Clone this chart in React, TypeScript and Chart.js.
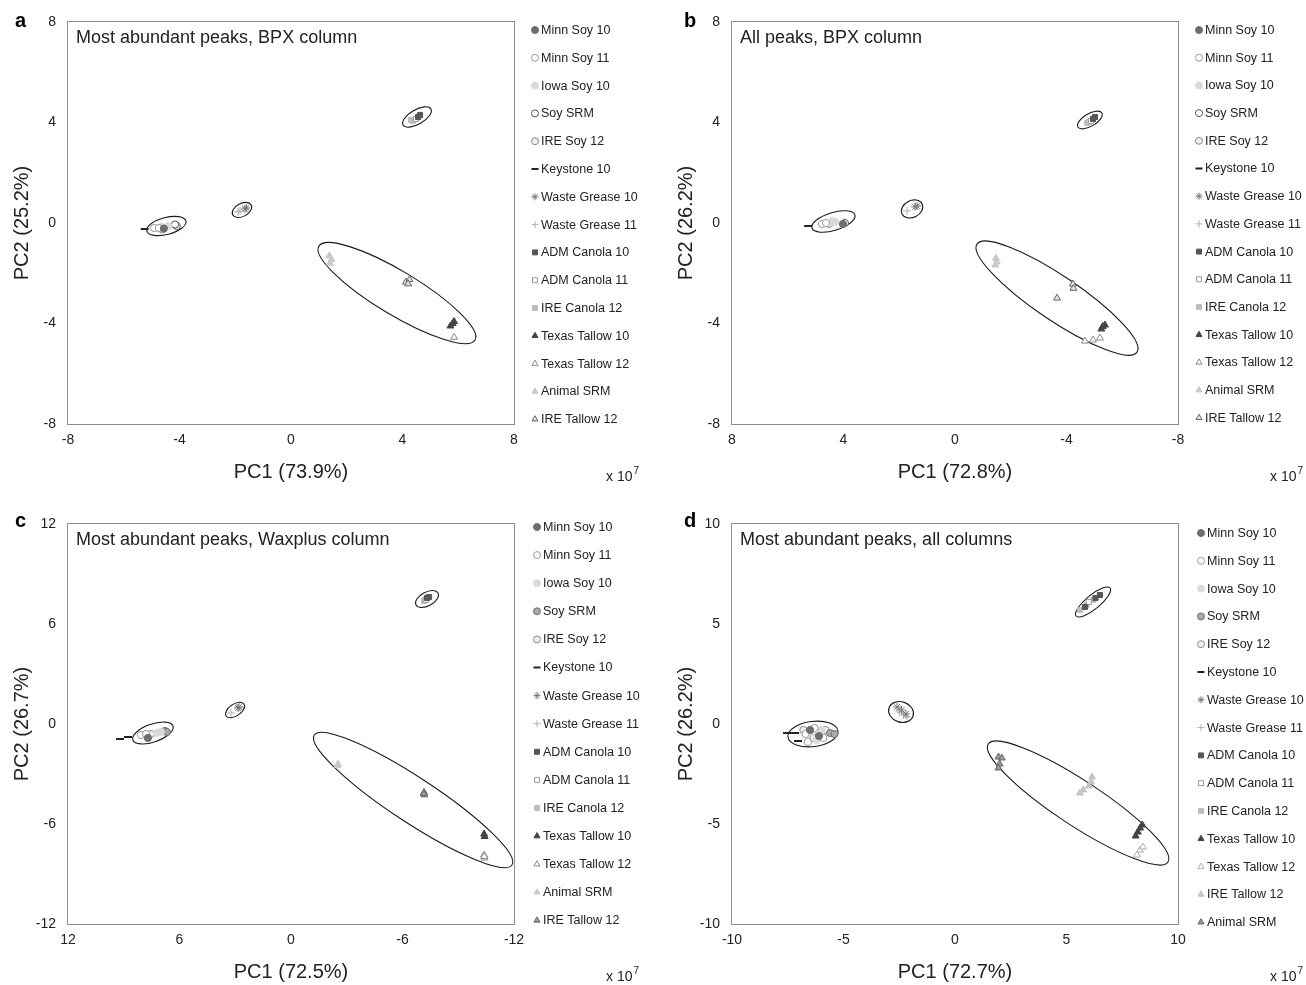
import React, { useEffect, useRef } from 'react';
import { Chart, registerables } from 'chart.js';
import { drawPoint } from 'chart.js/helpers';

Chart.register(...registerables);

const FONT = '"Liberation Sans", Arial, Helvetica, sans-serif';
const TEXT = '#222222';

type Pt = [number, number];
// ellipse: [centerX, centerY, majorEndX, majorEndY, minor/major ratio] in data units
type Ell = [number, number, number, number, number];

const SERIES_ORDER = [
  'Minn Soy 10', 'Minn Soy 11', 'Iowa Soy 10', 'Soy SRM', 'IRE Soy 12', 'Keystone 10',
  'Waste Grease 10', 'Waste Grease 11', 'ADM Canola 10', 'ADM Canola 11', 'IRE Canola 12',
  'Texas Tallow 10', 'Texas Tallow 12', 'Animal SRM', 'IRE Tallow 12',
];
const SERIES_ORDER_D = [
  'Minn Soy 10', 'Minn Soy 11', 'Iowa Soy 10', 'Soy SRM', 'IRE Soy 12', 'Keystone 10',
  'Waste Grease 10', 'Waste Grease 11', 'ADM Canola 10', 'ADM Canola 11', 'IRE Canola 12',
  'Texas Tallow 10', 'Texas Tallow 12', 'IRE Tallow 12', 'Animal SRM',
];

// ---------- Panel a: Most abundant peaks, BPX column ----------
const A_POINTS: Record<string, Pt[]> = {
  'Keystone 10': [[-5.25, -0.24]],
  'Minn Soy 11': [[-4.91, -0.2], [-4.74, -0.2]],
  'IRE Soy 12': [[-4.62, -0.26]],
  'Minn Soy 10': [[-4.56, -0.22]],
  'Iowa Soy 10': [[-4.66, -0.14], [-4.4, -0.12]],
  'Soy SRM': [[-4.1, -0.12], [-4.16, -0.06]],
  'Waste Grease 11': [[-1.9, 0.44], [-1.83, 0.48]],
  'Waste Grease 10': [[-1.65, 0.56], [-1.6, 0.6]],
  'IRE Canola 12': [[4.3, 4.1], [4.38, 4.06]],
  'ADM Canola 11': [[4.48, 4.14]],
  'ADM Canola 10': [[4.56, 4.22], [4.63, 4.3]],
  'Animal SRM': [[1.38, -1.3], [1.45, -1.45], [1.4, -1.6]],
  'IRE Tallow 12': [[4.12, -2.35], [4.25, -2.25], [4.2, -2.42]],
  'Texas Tallow 10': [[5.72, -4.1], [5.85, -3.92], [5.8, -4.0]],
  'Texas Tallow 12': [[5.85, -4.55]],
};
const A_ELLIPSES: Ell[] = [
  [-4.47, -0.12, -3.77, 0.08, 0.42],
  [-1.76, 0.52, -1.43, 0.72, 0.62],
  [4.52, 4.22, 5.02, 4.54, 0.45],
  [3.8, -2.79, 6.6, -4.66, 0.24],
];

// ---------- Panel b: All peaks, BPX column ----------
const B_POINTS: Record<string, Pt[]> = {
  'Keystone 10': [[5.27, -0.12]],
  'Minn Soy 11': [[4.77, -0.04], [4.63, 0.0]],
  'IRE Soy 12': [[4.52, -0.04]],
  'Iowa Soy 10': [[4.3, 0.04], [4.4, 0.08]],
  'Minn Soy 10': [[4.02, -0.04]],
  'Soy SRM': [[3.95, 0.0]],
  'Waste Grease 11': [[1.72, 0.48]],
  'Waste Grease 10': [[1.43, 0.64], [1.36, 0.68]],
  'IRE Canola 12': [[-4.74, 3.98], [-4.8, 4.02]],
  'ADM Canola 11': [[-4.88, 4.06]],
  'ADM Canola 10': [[-4.95, 4.14], [-5.02, 4.22]],
  'Animal SRM': [[-1.47, -1.4], [-1.5, -1.55], [-1.45, -1.67]],
  'IRE Tallow 12': [[-4.23, -2.43], [-4.25, -2.6], [-3.66, -2.99]],
  'Texas Tallow 10': [[-5.25, -4.22], [-5.38, -4.06], [-5.3, -4.12]],
  'Texas Tallow 12': [[-4.66, -4.7], [-4.95, -4.66], [-5.2, -4.58]],
};
const B_ELLIPSES: Ell[] = [
  [4.36, 0.06, 3.59, 0.32, 0.4],
  [1.54, 0.56, 1.18, 0.76, 0.75],
  [-4.84, 4.1, -5.27, 4.38, 0.45],
  [-3.66, -2.99, -6.53, -5.14, 0.23],
];

// ---------- Panel c: Most abundant peaks, Waxplus column ----------
const C_POINTS: Record<string, Pt[]> = {
  'Keystone 10': [[9.2, -0.9], [8.77, -0.78]],
  'Minn Soy 11': [[8.07, -0.66], [7.8, -0.6]],
  'Minn Soy 10': [[7.7, -0.84]],
  'IRE Soy 12': [[7.53, -0.6]],
  'Iowa Soy 10': [[7.21, -0.54], [7.0, -0.48]],
  'Soy SRM': [[6.78, -0.42], [6.68, -0.48]],
  'Waste Grease 11': [[3.23, 0.66]],
  'Waste Grease 10': [[2.85, 0.96], [2.8, 1.02]],
  'IRE Canola 12': [[-7.16, 7.38]],
  'ADM Canola 11': [[-7.25, 7.45]],
  'ADM Canola 10': [[-7.32, 7.56], [-7.43, 7.62]],
  'Animal SRM': [[-2.53, -2.4], [-2.5, -2.48]],
  'IRE Tallow 12': [[-7.16, -4.1], [-7.18, -4.25], [-7.14, -4.18]],
  'Texas Tallow 10': [[-10.39, -6.6], [-10.42, -6.75]],
  'Texas Tallow 12': [[-10.39, -7.86], [-10.42, -8.04], [-10.4, -7.95]],
};
const C_ELLIPSES: Ell[] = [
  [7.43, -0.54, 6.35, -0.12, 0.42],
  [3.01, 0.84, 2.53, 1.2, 0.55],
  [-7.32, 7.5, -7.91, 7.86, 0.55],
  [-6.57, -4.56, -11.89, -8.46, 0.19],
];

// ---------- Panel d: Most abundant peaks, all columns ----------
const D_POINTS: Record<string, Pt[]> = {
  'Keystone 10': [[-7.53, -0.45], [-7.17, -0.45], [-7.04, -0.85]],
  'Minn Soy 11': [[-6.7, -0.5], [-6.3, -0.2], [-5.9, -0.7], [-6.6, -0.9]],
  'Iowa Soy 10': [[-6.4, -0.4], [-6.0, -0.3], [-6.2, -0.8]],
  'IRE Soy 12': [[-6.8, -0.3], [-6.35, -0.7], [-5.8, -0.3]],
  'Minn Soy 10': [[-6.5, -0.3], [-6.1, -0.6]],
  'Soy SRM': [[-5.6, -0.45], [-5.4, -0.5]],
  'Waste Grease 11': [[-2.5, 0.6], [-2.3, 0.45], [-2.15, 0.35]],
  'Waste Grease 10': [[-2.6, 0.85], [-2.4, 0.7], [-2.2, 0.5]],
  'IRE Canola 12': [[5.6, 5.7], [5.9, 5.95], [6.2, 6.2]],
  'ADM Canola 11': [[6.0, 6.1]],
  'ADM Canola 10': [[5.83, 5.85], [6.3, 6.3], [6.5, 6.45]],
  'Animal SRM': [[1.95, -1.65], [2.1, -1.7], [2.0, -2.0], [1.95, -2.2]],
  'IRE Tallow 12': [[5.6, -3.45], [5.75, -3.3], [6.0, -3.1], [6.15, -2.65], [6.1, -2.9]],
  'Texas Tallow 10': [[8.1, -5.6], [8.2, -5.4], [8.3, -5.2], [8.4, -5.05]],
  'Texas Tallow 12': [[8.16, -6.55], [8.3, -6.3], [8.43, -6.15]],
};
const D_ELLIPSES: Ell[] = [
  [-6.37, -0.5, -5.25, -0.35, 0.5],
  [-2.42, 0.6, -1.88, 0.4, 0.8],
  [6.19, 6.1, 6.95, 6.8, 0.32],
  [5.52, -3.95, 9.55, -6.9, 0.21],
];

interface Sty { shape: string; fill: string; stroke: string; r: number; w: number }
const STYLE: Record<string, Sty> = {
  'Minn Soy 10': { shape: 'circle', fill: '#6e6e6e', stroke: '#6e6e6e', r: 3.6, w: 1 },
  'Minn Soy 11': { shape: 'circle', fill: '#ffffff', stroke: '#9a9a9a', r: 3.6, w: 1 },
  'Iowa Soy 10': { shape: 'circle', fill: '#dadada', stroke: '#dadada', r: 3.6, w: 1 },
  'Soy SRM': { shape: 'circle', fill: '#ffffff', stroke: '#555555', r: 3.6, w: 1 },
  'IRE Soy 12': { shape: 'circle', fill: '#eeeeee', stroke: '#8a8a8a', r: 3.6, w: 1 },
  'Keystone 10': { shape: 'line', fill: '#222222', stroke: '#222222', r: 4, w: 2 },
  'Waste Grease 10': { shape: 'star', fill: '#777777', stroke: '#777777', r: 4, w: 1 },
  'Waste Grease 11': { shape: 'cross', fill: '#b0b0b0', stroke: '#b0b0b0', r: 4, w: 1 },
  'ADM Canola 10': { shape: 'rect', fill: '#575757', stroke: '#575757', r: 3.6, w: 1 },
  'ADM Canola 11': { shape: 'rect', fill: '#ffffff', stroke: '#9a9a9a', r: 3.6, w: 1 },
  'IRE Canola 12': { shape: 'rect', fill: '#bdbdbd', stroke: '#bdbdbd', r: 3.6, w: 1 },
  'Texas Tallow 10': { shape: 'triangle', fill: '#444444', stroke: '#444444', r: 4, w: 1 },
  'Texas Tallow 12': { shape: 'triangle', fill: '#ffffff', stroke: '#8a8a8a', r: 4, w: 1 },
  'Animal SRM': { shape: 'triangle', fill: '#c8c8c8', stroke: '#c8c8c8', r: 4, w: 1 },
  'IRE Tallow 12': { shape: 'triangle', fill: '#e2e2e2', stroke: '#666666', r: 4, w: 1 },
};
const C_STYLE: Record<string, Partial<Sty>> = {
  'Soy SRM': { fill: '#a8a8a8', stroke: '#707070' },
  'IRE Tallow 12': { fill: '#9a9a9a', stroke: '#666666' },
};
const D_STYLE: Record<string, Partial<Sty>> = {
  'Soy SRM': { fill: '#a8a8a8', stroke: '#707070' },
  'Animal SRM': { fill: '#9a9a9a', stroke: '#666666' },
  'IRE Tallow 12': { fill: '#c4c4c4', stroke: '#c4c4c4' },
  'Texas Tallow 12': { fill: '#ffffff', stroke: '#b0b0b0' },
};

interface PanelCfg {
  letter: string; title: string; xTitle: string; yTitle: string;
  xMin: number; xMax: number; xStep: number; xReverse: boolean;
  yMin: number; yMax: number; yStep: number;
  points: Record<string, Pt[]>; ellipses: Ell[]; order: string[];
  styleOverride: Record<string, Partial<Sty>>;
  left: number; top: number; width: number; padTop: number;
  legendX: number; legendTop: number; legendStep: number;
  letterX: number; expX: number;
}

const PANELS: PanelCfg[] = [
  {
    letter: 'a', title: 'Most abundant peaks, BPX column', xTitle: 'PC1 (73.9%)', yTitle: 'PC2 (25.2%)',
    xMin: -8, xMax: 8, xStep: 4, xReverse: false, yMin: -8, yMax: 8, yStep: 4,
    points: A_POINTS, ellipses: A_ELLIPSES, order: SERIES_ORDER, styleOverride: {},
    left: 0, top: 0, width: 653, padTop: 22, legendX: 535, legendTop: 30, legendStep: 27.8,
    letterX: 15, expX: 606,
  },
  {
    letter: 'b', title: 'All peaks, BPX column', xTitle: 'PC1 (72.8%)', yTitle: 'PC2 (26.2%)',
    xMin: -8, xMax: 8, xStep: 4, xReverse: true, yMin: -8, yMax: 8, yStep: 4,
    points: B_POINTS, ellipses: B_ELLIPSES, order: SERIES_ORDER, styleOverride: {},
    left: 664, top: 0, width: 642, padTop: 22, legendX: 535, legendTop: 30, legendStep: 27.7,
    letterX: 20, expX: 606,
  },
  {
    letter: 'c', title: 'Most abundant peaks, Waxplus column', xTitle: 'PC1 (72.5%)', yTitle: 'PC2 (26.7%)',
    xMin: -12, xMax: 12, xStep: 6, xReverse: true, yMin: -12, yMax: 12, yStep: 6,
    points: C_POINTS, ellipses: C_ELLIPSES, order: SERIES_ORDER, styleOverride: C_STYLE,
    left: 0, top: 500, width: 653, padTop: 24, legendX: 537, legendTop: 27, legendStep: 28.1,
    letterX: 15, expX: 606,
  },
  {
    letter: 'd', title: 'Most abundant peaks, all columns', xTitle: 'PC1 (72.7%)', yTitle: 'PC2 (26.2%)',
    xMin: -10, xMax: 10, xStep: 5, xReverse: false, yMin: -10, yMax: 10, yStep: 5,
    points: D_POINTS, ellipses: D_ELLIPSES, order: SERIES_ORDER_D, styleOverride: D_STYLE,
    left: 664, top: 500, width: 642, padTop: 24, legendX: 537, legendTop: 33, legendStep: 27.8,
    letterX: 20, expX: 606,
  },
];

const HEIGHT = 490;
const AREA_RIGHT = 514;
const AREA_BOTTOM = 424;

function styleFor(p: PanelCfg, name: string): Sty {
  return { ...STYLE[name], ...(p.styleOverride[name] || {}) };
}

function Panel({ cfg }: { cfg: PanelCfg }) {
  const ref = useRef<HTMLCanvasElement | null>(null);
  useEffect(() => {
    if (!ref.current) return;
    const datasets = cfg.order
      .filter((n) => cfg.points[n])
      .map((name) => {
        const s = styleFor(cfg, name);
        return {
          label: name,
          data: cfg.points[name].map(([x, y]) => ({ x, y })),
          pointStyle: s.shape,
          backgroundColor: s.fill,
          borderColor: s.stroke,
          pointRadius: s.r,
          pointHoverRadius: s.r,
          borderWidth: s.w,
          pointBorderWidth: s.w,
        };
      });

    const overlay = {
      id: 'overlay' + cfg.letter,
      beforeDatasetsDraw(chart: any) {
        const { ctx } = chart;
        const xs = chart.scales.x;
        const ys = chart.scales.y;
        ctx.save();
        ctx.strokeStyle = '#1a1a1a';
        ctx.lineWidth = 1.1;
        for (const [cx, cy, ex, ey, ratio] of cfg.ellipses) {
          const pcx = xs.getPixelForValue(cx);
          const pcy = ys.getPixelForValue(cy);
          const pex = xs.getPixelForValue(ex);
          const pey = ys.getPixelForValue(ey);
          const a = Math.hypot(pex - pcx, pey - pcy);
          const ang = Math.atan2(pey - pcy, pex - pcx);
          ctx.beginPath();
          ctx.ellipse(pcx, pcy, a, a * ratio, ang, 0, Math.PI * 2);
          ctx.stroke();
        }
        ctx.restore();
      },
      afterDraw(chart: any) {
        const { ctx, chartArea } = chart;
        ctx.save();
        // frame
        ctx.strokeStyle = '#8c8c8c';
        ctx.lineWidth = 1;
        ctx.strokeRect(
          Math.round(chartArea.left) - 0.5,
          Math.round(chartArea.top) - 0.5,
          Math.round(chartArea.right - chartArea.left) + 1,
          Math.round(chartArea.bottom - chartArea.top) + 1,
        );
        // panel letter
        ctx.fillStyle = '#000';
        ctx.font = `bold 20px ${FONT}`;
        ctx.textAlign = 'left';
        ctx.textBaseline = 'middle';
        ctx.fillText(cfg.letter, cfg.letterX, 21);
        // title inside plot
        ctx.fillStyle = TEXT;
        ctx.font = `18px ${FONT}`;
        ctx.fillText(cfg.title, chartArea.left + 8, chartArea.top + 16);
        // legend
        ctx.font = `12.5px ${FONT}`;
        cfg.order.forEach((name, i) => {
          const s = styleFor(cfg, name);
          const y = cfg.legendTop + i * cfg.legendStep;
          ctx.fillStyle = s.fill;
          ctx.strokeStyle = s.stroke;
          ctx.lineWidth = s.shape === 'line' ? 2 : 1;
          drawPoint(ctx, { pointStyle: s.shape, radius: s.shape === 'line' ? 3.5 : 3.5, rotation: 0, borderWidth: ctx.lineWidth } as any, cfg.legendX, y);
          ctx.fillStyle = TEXT;
          ctx.fillText(name, cfg.legendX + 6, y + 0.5);
        });
        // x 10^7
        ctx.font = `14px ${FONT}`;
        ctx.fillStyle = TEXT;
        ctx.fillText('x 10', cfg.expX, 477);
        const w = ctx.measureText('x 10').width;
        ctx.font = `10px ${FONT}`;
        ctx.fillText('7', cfg.expX + w + 1, 471);
        ctx.restore();
      },
    };

    const chart = new Chart(ref.current, {
      type: 'scatter',
      data: { datasets } as any,
      options: {
        animation: false,
        responsive: false,
        maintainAspectRatio: false,
        events: [],
        layout: { padding: { left: 0, top: cfg.padTop, right: cfg.width - AREA_RIGHT, bottom: 0 } },
        plugins: { legend: { display: false }, tooltip: { enabled: false } },
        scales: {
          x: {
            type: 'linear',
            min: cfg.xMin,
            max: cfg.xMax,
            reverse: cfg.xReverse,
            ticks: { stepSize: cfg.xStep, padding: 8, color: TEXT, font: { size: 14, family: FONT }, maxRotation: 0 },
            grid: { display: false, drawTicks: false },
            border: { display: false },
            title: { display: true, text: cfg.xTitle, color: TEXT, font: { size: 20, family: FONT }, padding: { top: 0, bottom: 6 } },
            afterFit: (s: any) => { s.height = HEIGHT - AREA_BOTTOM; },
          },
          y: {
            type: 'linear',
            min: cfg.yMin,
            max: cfg.yMax,
            ticks: { stepSize: cfg.yStep, padding: 12, color: TEXT, font: { size: 14, family: FONT } },
            grid: { display: false, drawTicks: false },
            border: { display: false },
            title: { display: true, text: cfg.yTitle, color: TEXT, font: { size: 20, family: FONT }, padding: { top: 10, bottom: 0 } },
            afterFit: (s: any) => { s.width = 68; },
          },
        },
      } as any,
      plugins: [overlay],
    });
    return () => chart.destroy();
  }, [cfg]);

  return (
    <canvas
      ref={ref}
      width={cfg.width}
      height={HEIGHT}
      style={{ position: 'absolute', left: cfg.left, top: cfg.top, width: cfg.width, height: HEIGHT, display: 'block' }}
    />
  );
}

export default function App() {
  return (
    <div style={{ position: 'absolute', left: 0, top: 0, width: 1306, height: 985, background: '#ffffff', overflow: 'hidden' }}>
      {PANELS.map((p) => (
        <Panel key={p.letter} cfg={p} />
      ))}
    </div>
  );
}
